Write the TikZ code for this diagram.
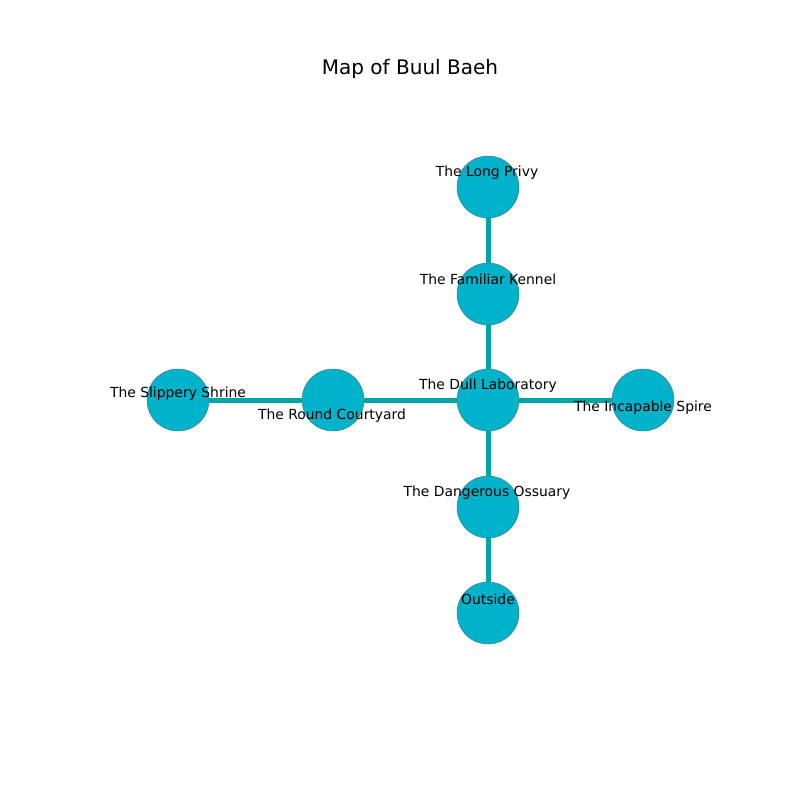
\documentclass[tikz,border=0pt]{standalone}
\usepackage{fontspec}
\setmainfont{DejaVu Sans}
\definecolor{nodefill}{HTML}{00B2CA}
\definecolor{edgecol}{HTML}{00A6A6}
\definecolor{nodeedge}{HTML}{3A7F8A}
\begin{document}
\begin{tikzpicture}[x=1pt,y=-1pt,
  room/.style={circle,draw=nodeedge,line width=0.5pt,fill=nodefill,minimum size=62pt,inner sep=0pt},
  lbl/.style={font=\fontsize{13.9pt}{16pt}\selectfont,inner sep=0pt,anchor=center},
  link/.style={edgecol,line width=5pt}]
\useasboundingbox[fill=white] (0,0) rectangle (800,800);
\node[font=\fontsize{20pt}{24pt}\selectfont,inner sep=0pt] (title) at (410,69) {Map of Buul Baeh};
\node[room] (privy) at (488,187) {};
\node[room] (kennel) at (488,294) {};
\node[room] (lab) at (488,400) {};
\node[room] (ossuary) at (488,507) {};
\node[room] (outside) at (488,613) {};
\node[room] (court) at (333,400) {};
\node[room] (shrine) at (178,400) {};
\node[room] (spire) at (643,400) {};
\draw[link] (privy.south) -- (kennel.north);
\draw[link] (kennel.south) -- (lab.north);
\draw[link] (lab.south) -- (ossuary.north);
\draw[link] (ossuary.south) -- (outside.north);
\draw[link] (lab.west) -- (court.east);
\draw[link] (court.west) -- (shrine.east);
\draw[link] (lab.east) -- (spire.west);
\node[lbl] (tprivy) at (487,173) {The Long Privy};
\node[lbl] (tkennel) at (488,279) {The Familiar Kennel};
\node[lbl] (tlab) at (488,386) {The Dull Laboratory};
\node[lbl] (toss) at (487,493) {The Dangerous Ossuary};
\node[lbl] (tout) at (488,599) {Outside};
\node[lbl] (tshrine) at (178,394) {The Slippery Shrine};
\node[lbl] (tcourt) at (332,416) {The Round Courtyard};
\node[lbl] (tspire) at (643,408) {The Incapable Spire};
\end{tikzpicture}
\end{document}
